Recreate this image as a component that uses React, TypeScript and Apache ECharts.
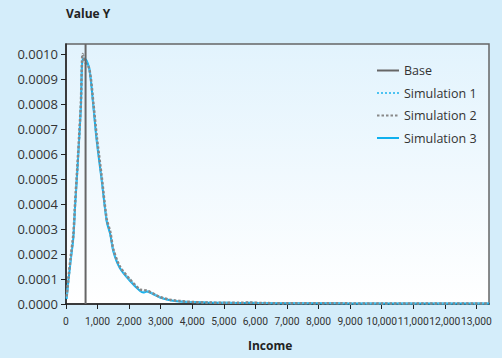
import React, { useEffect, useRef } from "react";
import * as echarts from "echarts";

const incomes = [20, 75, 150, 233, 290, 360, 415, 470, 530, 600, 740, 870, 975, 1130, 1290, 1400, 1500, 1700, 2030, 2350, 2450, 2560, 2750, 2980, 3300, 3600, 4000, 4500, 5000, 5500, 5800, 6200, 7000, 8000, 9000, 10000, 11000, 12000, 13000, 13400];

const sim1 = [0.000024, 0.000096, 0.00018, 0.00027, 0.0004, 0.00054, 0.00066, 0.00079, 0.00099, 0.00098, 0.00094, 0.00079, 0.00066, 0.0005, 0.000336, 0.000284, 0.000216, 0.000149, 0.000096, 0.000056, 0.00005, 0.000052, 0.000042, 0.000027, 0.000016, 0.000011, 0.000008, 0.000006, 0.000005, 0.000004, 0.000005, 0.000004, 0.000003, 0.000003, 0.0000025, 0.000002, 0.000002, 0.000002, 0.000002, 0.000002];

const sim2 = [0.00003, 0.0001, 0.00019, 0.00028, 0.00041, 0.00055, 0.00067, 0.0008, 0.001, 0.00097, 0.00094, 0.0008, 0.00067, 0.00051, 0.00034, 0.00029, 0.00022, 0.000152, 0.000098, 0.000058, 0.000056, 0.000054, 0.000043, 0.000028, 0.000017, 0.000012, 0.000008, 0.000006, 0.000005, 0.000005, 0.000006, 0.000004, 0.000003, 0.000003, 0.0000025, 0.000002, 0.000002, 0.000002, 0.000002, 0.000002];

const sim3 = [0.00002, 0.000092, 0.000175, 0.000265, 0.000395, 0.000535, 0.000655, 0.000785, 0.00098, 0.00098, 0.00094, 0.000785, 0.00065, 0.000495, 0.00033, 0.00028, 0.00021, 0.000145, 0.000092, 0.000052, 0.000046, 0.00005, 0.00004, 0.000026, 0.000015, 0.00001, 0.000008, 0.000006, 0.000005, 0.000004, 0.000005, 0.000004, 0.000003, 0.000003, 0.0000025, 0.000002, 0.000002, 0.000002, 0.000002, 0.000002];

const baseIncome = 620;
const baseRange = [0, 0.00104];

const yTicks = [0, 0.0001, 0.0002, 0.0003, 0.0004, 0.0005, 0.0006, 0.0007, 0.0008, 0.0009, 0.001];
const xTicks = [0, 1000, 2000, 3000, 4000, 5000, 6000, 7000, 8000, 9000, 10000, 11000, 12000, 13000];

const seriesNames = ["Base", "Simulation 1", "Simulation 2", "Simulation 3"];

export default function App() {
  const ref = useRef<HTMLDivElement>(null);
  useEffect(() => {
    if (!ref.current) return;
    const chart = echarts.init(ref.current, null, { renderer: "svg" });
    const pair = (vals: number[]) => incomes.map((x, i) => [x, vals[i]]);
    const txt = "#333";
    chart.setOption({
      animation: false,
      backgroundColor: "#d4edfa",
      grid: {
        left: 66,
        right: 13,
        top: 44,
        bottom: 54,
        show: true,
        borderColor: "#666",
        borderWidth: 1.5,
        backgroundColor: new echarts.graphic.LinearGradient(0, 0, 0, 1, [
          { offset: 0, color: "#e2f3fd" },
          { offset: 1, color: "#ffffff" },
        ]),
      },
      legend: {
        orient: "vertical",
        left: 371,
        top: 59,
        itemWidth: 22,
        itemHeight: 14,
        itemGap: 9.5,
        data: seriesNames,
        itemStyle: { opacity: 0 },
        textStyle: { fontFamily: "'Open Sans', sans-serif", fontSize: 12.5, color: txt },
      },
      xAxis: {
        type: "value",
        min: 0,
        max: 13400,
        interval: 1000,
        axisLine: { show: true, lineStyle: { color: "#222", width: 1.5 } },
        axisTick: { show: true, length: 5, lineStyle: { color: "#222" }, customValues: xTicks },
        splitLine: { show: false },
        axisLabel: {
          customValues: xTicks,
          showMinLabel: true,
          showMaxLabel: true,
          hideOverlap: false,
          margin: 12,
          fontFamily: "Roboto, sans-serif",
          fontSize: 10.3,
          color: txt,
          formatter: (v: number) => v.toLocaleString("en-US"),
        },
      },
      yAxis: {
        type: "value",
        min: 0,
        max: baseRange[1],
        interval: 0.0001,
        axisLine: { show: true, lineStyle: { color: "#222", width: 1.5 } },
        axisTick: { show: true, length: 5, lineStyle: { color: "#222" }, customValues: yTicks },
        splitLine: { show: false },
        axisLabel: {
          customValues: yTicks,
          margin: 8,
          fontFamily: "'Open Sans', sans-serif",
          fontSize: 13,
          color: txt,
          formatter: (v: number) => v.toFixed(4),
        },
      },
      graphic: [
        {
          type: "text",
          left: 66,
          top: 7,
          style: { text: "Value Y", fontFamily: "'Open Sans', sans-serif", fontWeight: "bold", fontSize: 12, fill: "#222" },
        },
        {
          type: "text",
          left: 248,
          top: 339,
          style: { text: "Income", fontFamily: "'Open Sans', sans-serif", fontWeight: "bold", fontSize: 12, fill: "#222" },
        },
      ],
      series: [
        {
          name: "Base",
          type: "line",
          symbol: "none",
          z: 5,
          lineStyle: { color: "#666", width: 2, type: "solid" },
          itemStyle: { color: "#666" },
          data: baseRange.map((y) => [baseIncome, y]),
        },
        {
          name: "Simulation 1",
          type: "line",
          symbol: "none",
          smooth: 0.3,
          z: 3,
          lineStyle: { color: "#4cc3f2", width: 2, type: [2, 2] },
          itemStyle: { color: "#4cc3f2" },
          data: pair(sim1),
        },
        {
          name: "Simulation 2",
          type: "line",
          symbol: "none",
          smooth: 0.3,
          z: 4,
          lineStyle: { color: "#888888", width: 2.5, type: [2.5, 2] },
          itemStyle: { color: "#888888" },
          data: pair(sim2),
        },
        {
          name: "Simulation 3",
          type: "line",
          symbol: "none",
          smooth: 0.3,
          z: 2,
          lineStyle: { color: "#0fb0ee", width: 2, type: "solid" },
          itemStyle: { color: "#0fb0ee" },
          data: pair(sim3),
        },
      ],
    });
    return () => chart.dispose();
  }, []);
  return <div ref={ref} style={{ position: "fixed", left: 0, top: 0, width: 502, height: 358 }} />;
}
